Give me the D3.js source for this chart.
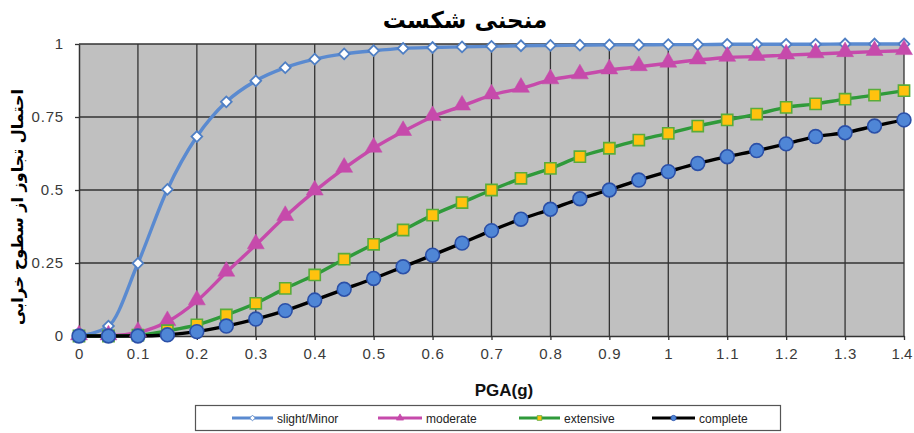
<!DOCTYPE html>
<html><head><meta charset="utf-8">
<script src="https://cdn.jsdelivr.net/npm/d3@7/dist/d3.min.js"></script>
<style>body{margin:0;background:#fff;} svg{display:block;}</style>
</head><body>
<svg id="c" width="914" height="433"></svg>
<script>
const pga = [0,0.05,0.1,0.15,0.2,0.25,0.3,0.35,0.4,0.45,0.5,0.55,0.6,0.65,0.7,0.75,0.8,0.85,0.9,0.95,1.0,1.05,1.1,1.15,1.2,1.25,1.3,1.35,1.4];
const slight = [0,0.034,0.249,0.502,0.683,0.802,0.874,0.919,0.948,0.966,0.977,0.985,0.988,0.99,0.992,0.994,0.995,0.996,0.997,0.997,0.998,0.998,0.999,0.999,0.999,0.999,1,1,1];
const moderate = [0,0,0.012,0.049,0.12,0.218,0.312,0.409,0.496,0.574,0.643,0.700,0.751,0.787,0.825,0.848,0.877,0.894,0.911,0.922,0.934,0.945,0.954,0.957,0.962,0.966,0.970,0.974,0.977];
const extensive = [0,0,0.003,0.018,0.038,0.072,0.112,0.163,0.209,0.263,0.314,0.363,0.414,0.457,0.5,0.540,0.574,0.614,0.643,0.671,0.694,0.719,0.740,0.760,0.783,0.795,0.811,0.825,0.840];
const complete = [0,0,0,0.004,0.015,0.034,0.058,0.087,0.123,0.160,0.197,0.237,0.277,0.318,0.361,0.400,0.434,0.470,0.5,0.534,0.563,0.591,0.614,0.635,0.658,0.683,0.696,0.719,0.740];
const xTicks = [0,0.1,0.2,0.3,0.4,0.5,0.6,0.7,0.8,0.9,1,1.1,1.2,1.3,1.4];
const yTicks = [0,0.25,0.5,0.75,1];
const seriesNames = ["slight/Minor","moderate","extensive","complete"];
const titleText = "منحنی شکست";
const yLabel = "احتمال تجاوز از سطوح خرابی";
const xLabel = "PGA(g)";

const series = [
  {name:seriesNames[0], vals:slight, line:"#5a8ad0", fill:"#ffffff", stroke:"#4f7fc4", sym:d3.symbolSquare, rot:45, size:58, sw:1.8},
  {name:seriesNames[1], vals:moderate, line:"#c64aab", fill:"#c64aab", stroke:"#c64aab", sym:d3.symbolTriangle, rot:0, size:125, sw:0.5},
  {name:seriesNames[2], vals:extensive, line:"#2f9a3a", fill:"#ffc20e", stroke:"#5aac3a", sym:d3.symbolSquare, rot:0, size:125, sw:1.6},
  {name:seriesNames[3], vals:complete, line:"#000000", fill:"#4f86d6", stroke:"#2b50a8", sym:d3.symbolCircle, rot:0, size:150, sw:1.6}
];

const svg = d3.select("#c");
const L=79, R=904, T=44, B=336;
const x = d3.scaleLinear().domain([0,1.4]).range([L,R]);
const y = d3.scaleLinear().domain([0,1]).range([B,T]);

svg.append("rect").attr("x",L).attr("y",T).attr("width",R-L).attr("height",B-T).attr("fill","#c0c0c0");

// grid
svg.append("g").selectAll("line").data(xTicks.slice(1)).join("line")
  .attr("x1",d=>x(d)).attr("x2",d=>x(d)).attr("y1",T).attr("y2",B)
  .attr("stroke","#333").attr("stroke-width",1.3);
svg.append("g").selectAll("line").data(yTicks.slice(1)).join("line")
  .attr("x1",L).attr("x2",R).attr("y1",d=>y(d)).attr("y2",d=>y(d))
  .attr("stroke","#333").attr("stroke-width",1.3);

// axes
const xAxis = svg.append("g").attr("transform",`translate(0,${B})`)
  .call(d3.axisBottom(x).tickValues(xTicks).tickFormat(d=>String(+d.toFixed(1))).tickSize(4).tickSizeOuter(0));
const yAxis = svg.append("g").attr("transform",`translate(${L},0)`)
  .call(d3.axisLeft(y).tickValues(yTicks).tickFormat(d=>String(d)).tickSize(4).tickSizeOuter(0));
[xAxis,yAxis].forEach(a=>{
  a.select(".domain").attr("stroke","#333").attr("stroke-width",1.5);
  a.selectAll(".tick line").attr("stroke","#333").attr("stroke-width",1.3);
  a.selectAll("text").attr("font-family","Liberation Sans, Arial, sans-serif").attr("font-size",15)
    .attr("letter-spacing","0.8px").attr("fill","#3a3a3a");
});
xAxis.selectAll("text").attr("y",0).attr("dy",0).attr("transform","translate(0,23)");
xAxis.selectAll("text").filter(d=>d===1.4).attr("letter-spacing","0px").attr("dx",-2.5);
yAxis.selectAll("text").attr("dx","-8");

// lines and markers
const line = d3.line().x((d,i)=>x(pga[i])).y(d=>y(d)).curve(d3.curveMonotoneX);
series.forEach(s=>{
  svg.append("path").datum(s.vals).attr("d",line).attr("fill","none")
    .attr("stroke",s.line).attr("stroke-width",3.4);
});
series.forEach(s=>{
  const sym = d3.symbol().type(s.sym).size(s.size);
  svg.append("g").selectAll("path").data(s.vals).join("path")
    .attr("d",sym)
    .attr("transform",(d,i)=>`translate(${x(pga[i])},${y(d)}) rotate(${s.rot})`+(s.sym===d3.symbolTriangle?" translate(0,-1)":""))
    .attr("fill",s.fill).attr("stroke",s.stroke).attr("stroke-width",s.sw);
});

// title
svg.append("text").attr("x",465).attr("y",28).attr("text-anchor","middle")
  .attr("font-family","DejaVu Sans, Noto Sans, sans-serif").attr("font-weight","bold").attr("font-size",23)
  .attr("direction","rtl").text(titleText);
// y label
svg.append("text").attr("transform","translate(23,207) rotate(-90)").attr("text-anchor","middle")
  .attr("font-family","DejaVu Sans, Noto Sans, sans-serif").attr("font-weight","bold").attr("font-size",16)
  .attr("direction","rtl").text(yLabel);
// x label
svg.append("text").attr("x",504).attr("y",396).attr("text-anchor","middle")
  .attr("font-family","Liberation Sans, Arial, sans-serif").attr("font-weight","bold").attr("font-size",17)
  .attr("fill","#111").text(xLabel);

// legend
svg.append("rect").attr("x",195.5).attr("y",405.5).attr("width",585).attr("height",25)
  .attr("fill","#fff").attr("stroke","#555").attr("stroke-width",1.2);
const legX = [232, 378, 519, 652];
const legW = [41, 44, 41, 43];
series.forEach((s,i)=>{
  const g = svg.append("g").attr("transform",`translate(${legX[i]},418)`);
  g.append("line").attr("x1",0).attr("x2",legW[i]).attr("stroke",s.line).attr("stroke-width",3);
  g.append("path").attr("d",d3.symbol().type(s.sym).size(s.rot?16:22)).attr("transform",`translate(${legW[i]/2},0) rotate(${s.rot})`)
    .attr("fill",s.fill).attr("stroke",s.stroke).attr("stroke-width",0.8);
  g.append("text").attr("x",legW[i]+4).attr("y",4.5).attr("font-family","Liberation Sans, Arial, sans-serif")
    .attr("font-size",12).attr("fill","#222").text(s.name);
});
</script>
</body></html>
